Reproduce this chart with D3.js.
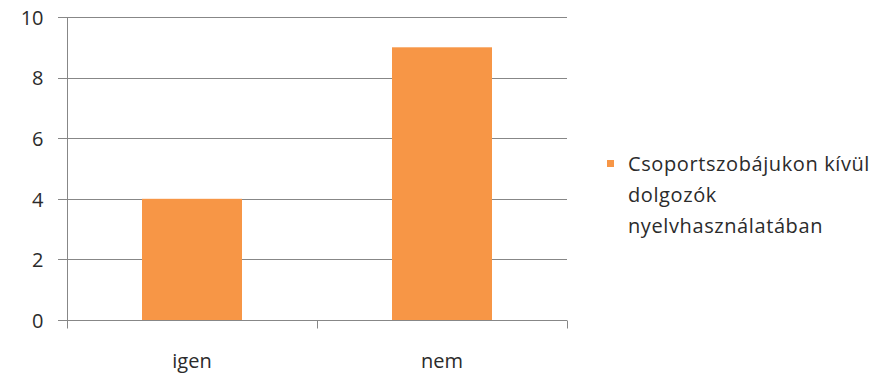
<!DOCTYPE html>
<html>
<head>
<meta charset="utf-8">
<script src="https://cdn.jsdelivr.net/npm/d3@7"></script>
<style>
  html, body { margin: 0; padding: 0; background: #fff; }
  svg text { font-family: "Open Sans", Lato, sans-serif; fill: #2b2b2b; }
</style>
</head>
<body>
<svg id="chart" width="896" height="376"></svg>
<script>
const categories = ["igen", "nem"];
const values = [4, 9];
const yTicks = [0, 2, 4, 6, 8, 10];
const seriesName = ["Csoportszobájukon kívül", "dolgozók", "nyelvhasználatában"];

const svg = d3.select("#chart");
const plot = { left: 67, right: 567, top: 17, bottom: 320 };
const barColor = "#F79646";
const gridColor = "#878787";
const fontSize = 20;

const x = d3.scaleBand().domain(categories).range([plot.left, plot.right]).paddingInner(0.6).paddingOuter(0.3);
const y = d3.scaleLinear().domain([0, 10]).range([plot.bottom, plot.top]);

// horizontal gridlines
svg.append("g").selectAll("line").data(yTicks).join("line")
  .attr("x1", plot.left - 9).attr("x2", plot.right)
  .attr("y1", d => Math.round(y(d)) + 0.5).attr("y2", d => Math.round(y(d)) + 0.5)
  .attr("stroke", gridColor).attr("stroke-width", 1);

// y axis
const yAxis = svg.append("g").attr("transform", `translate(${plot.left + 0.5},0)`)
  .call(d3.axisLeft(y).tickValues(yTicks).tickSize(0).tickPadding(24));
yAxis.select(".domain").attr("stroke", gridColor).attr("d", `M0,${plot.top}V${plot.bottom + 8}`);
yAxis.selectAll("text")
  .attr("font-size", fontSize)
  .attr("dy", "0.36em")
  .style("font-family", "'Open Sans', sans-serif")
  .attr("fill", "#2b2b2b");

// bars
svg.append("g").selectAll("rect").data(categories).join("rect")
  .attr("x", d => x(d))
  .attr("width", x.bandwidth())
  .attr("y", (d, i) => y(values[i]))
  .attr("height", (d, i) => y(0) - y(values[i]))
  .attr("fill", barColor);

// x axis
const xAxis = svg.append("g").attr("transform", `translate(0,${Math.round(plot.bottom) + 0.5})`);
xAxis.append("line").attr("x1", plot.left).attr("x2", plot.right).attr("stroke", gridColor);
const xBoundaries = [plot.left, (plot.left + plot.right) / 2, plot.right];
xAxis.selectAll(".xt").data(xBoundaries).join("line").attr("class", "xt")
  .attr("x1", d => Math.round(d) + 0.5).attr("x2", d => Math.round(d) + 0.5)
  .attr("y1", 0).attr("y2", 8).attr("stroke", gridColor);
xAxis.selectAll("text").data(categories).join("text")
  .attr("x", d => x(d) + x.bandwidth() / 2)
  .attr("y", 47)
  .attr("text-anchor", "middle")
  .attr("font-size", fontSize)
  .text(d => d);

// legend
const legend = svg.append("g");
legend.append("rect").attr("x", 607).attr("y", 160).attr("width", 7).attr("height", 7).attr("fill", barColor);
legend.selectAll("text").data(seriesName).join("text")
  .attr("x", 628)
  .attr("y", (d, i) => 171 + i * 31)
  .attr("font-size", fontSize)
  .attr("letter-spacing", "0.6px")
  .text(d => d);
</script>
</body>
</html>
